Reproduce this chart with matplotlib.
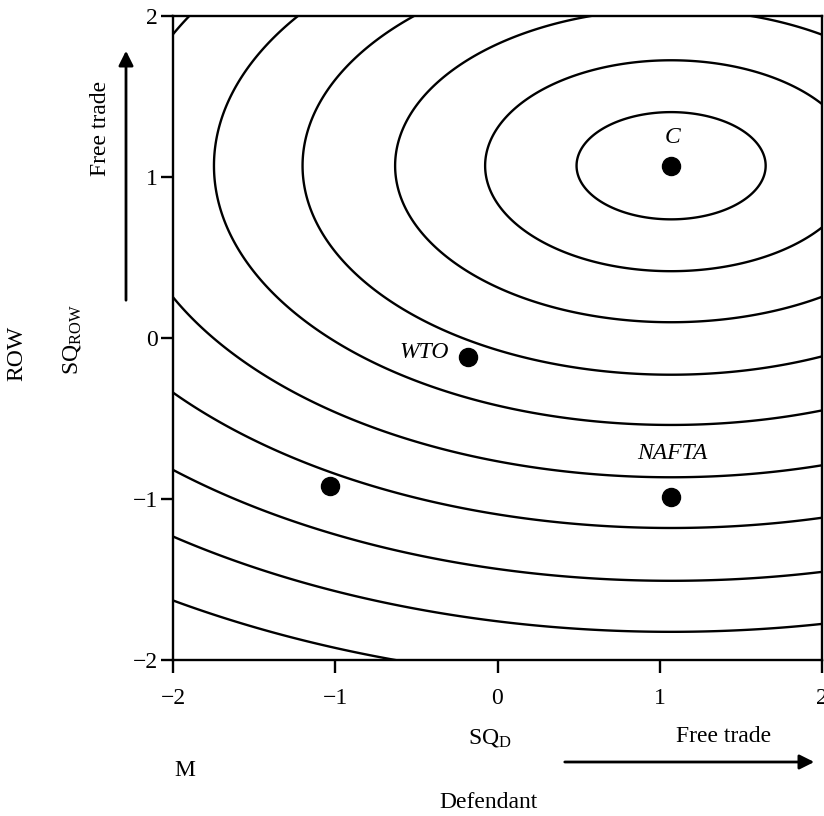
import matplotlib.pyplot as plt
import numpy as np

plt.rcParams['font.family'] = ['Liberation Serif', 'DejaVu Serif']
plt.rcParams['mathtext.fontset'] = 'custom'
plt.rcParams['mathtext.rm'] = 'Liberation Serif'
plt.rcParams['mathtext.it'] = 'Liberation Serif:italic'

# ideal point C and the indifference curves around it
ideal_x, ideal_y = 1.07, 1.07
axis_ratio = 1.75   # horizontal / vertical half-width of each curve
radii = [0.333, 0.655, 0.972, 1.298, 1.61, 1.935, 2.25, 2.578, 2.895, 3.22]

# points shown on the chart
pt_x = [1.07, -0.18, 1.07, -1.03]
pt_y = [1.07, -0.12, -0.99, -0.92]
pt_labels = ['C', 'WTO', 'NAFTA', '']
label_x = [1.082, -0.45, 1.075, None]
label_y = [1.248, -0.087, -0.72, None]

ticks = [-2, -1, 0, 1, 2]

W, H = 824, 816
fig = plt.figure(figsize=(W / 100, H / 100), dpi=100)
ax = fig.add_axes([173 / W, 1 - 660 / H, (822 - 173) / W, (660 - 16) / H])

gx = np.linspace(-2.3, 2.3, 600)
gy = np.linspace(-2.3, 2.3, 600)
GX, GY = np.meshgrid(gx, gy)
dist = np.sqrt(((GX - ideal_x) / axis_ratio) ** 2 + (GY - ideal_y) ** 2)
ax.contour(GX, GY, dist, levels=radii, colors='black', linewidths=1.7)

ax.plot(pt_x, pt_y, 'o', color='black', markersize=13, zorder=5)
for lab, lx, ly in zip(pt_labels, label_x, label_y):
    if lab:
        ax.text(lx, ly, lab, fontsize=17, style='italic', ha='center', va='center')

ax.set_xlim(-2, 2)
ax.set_ylim(-2, 2)
ax.set_xticks(ticks)
ax.set_yticks(ticks)
ax.tick_params(direction='out', length=9, width=1.7, labelsize=17)
ax.tick_params(axis='x', pad=11)
ax.tick_params(axis='y', pad=2)
for sp in ax.spines.values():
    sp.set_linewidth(1.7)


def fx(px):
    return px / W


def fy(py):
    return 1 - py / H


# left side labels
fig.text(fx(17), fy(353), 'ROW', rotation=90, fontsize=17, ha='center', va='center')
fig.text(fx(72), fy(340), r'$\mathrm{SQ}_{\mathrm{ROW}}$', rotation=90, fontsize=17,
         ha='center', va='center')
fig.text(fx(101), fy(128), 'Free trade', rotation=90, fontsize=17, ha='center', va='center')
ax.annotate('', xy=(fx(126), fy(48)), xytext=(fx(126), fy(303)),
            xycoords='figure fraction', textcoords='figure fraction',
            arrowprops=dict(arrowstyle='-|>', lw=2, color='black', mutation_scale=22),
            annotation_clip=False)

# bottom labels
fig.text(fx(490), fy(738), r'$\mathrm{SQ}_{\mathrm{D}}$', fontsize=17, ha='center', va='center')
fig.text(fx(724), fy(736), 'Free trade', fontsize=17, ha='center', va='center')
fig.text(fx(185), fy(770), 'M', fontsize=17, ha='center', va='center')
fig.text(fx(488), fy(802), 'Defendant', fontsize=17, ha='center', va='center')
ax.annotate('', xy=(fx(817), fy(762)), xytext=(fx(562), fy(762)),
            xycoords='figure fraction', textcoords='figure fraction',
            arrowprops=dict(arrowstyle='-|>', lw=2, color='black', mutation_scale=22),
            annotation_clip=False)

fig.savefig('out.png', dpi=100)
